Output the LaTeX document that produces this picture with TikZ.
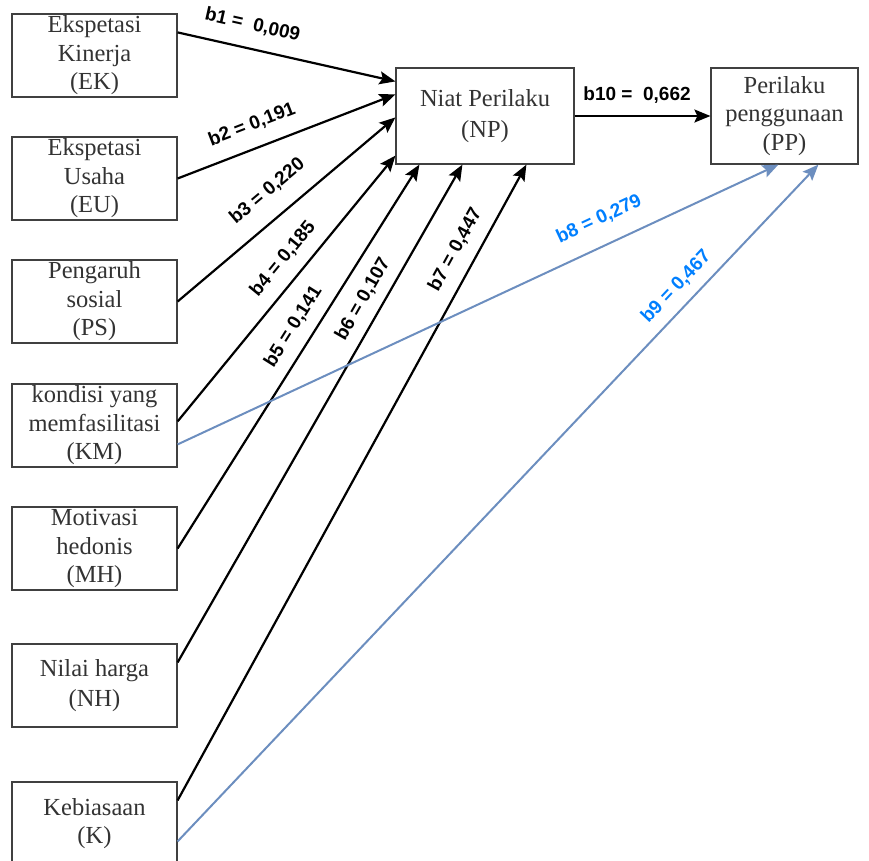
\documentclass[tikz,border=0pt]{standalone}
\usepackage{fontspec}
\setmainfont{Liberation Serif}
\newfontfamily\lblfont{Liberation Sans}
\usetikzlibrary{arrows.meta,calc}
\definecolor{myblue}{RGB}{108,142,191}
\definecolor{lblblue}{RGB}{0,127,255}
\tikzset{
    block/.style = {draw=black!75, line width=1.2pt, text=black!80,
            minimum width=165pt, minimum height=83pt, inner sep=0pt,
            align=center, font=\fontsize{24.5}{28.5}\selectfont},
    line/.style  = {-{Stealth[length=16pt,width=13pt,inset=3pt]}, line width=2.2pt, draw=black},
    bline/.style = {line, line width=2pt, draw=myblue},
    coef/.style  = {sloped, inner sep=0pt, text=black,
            font=\lblfont\bfseries\fontsize{19}{22}\selectfont},
    bcoef/.style = {coef, text=lblblue},
}

\begin{document}
\begin{tikzpicture}[x=1pt,y=-1pt]
    \useasboundingbox (0,0) rectangle (869,860);
    % Nodes
    \node[block] (EK) at (94.5,55.5) {Ekspetasi\\Kinerja\\(EK)};
    \node[block] (EU) at (94.5,178.5) {Ekspetasi\\Usaha\\(EU)};
    \node[block] (PS) at (94.5,301.5) {Pengaruh\\sosial\\(PS)};
    \node[block] (KM) at (94.5,425.5) {kondisi yang\\memfasilitasi\\(KM)};
    \node[block] (MH) at (94.5,548.5) {Motivasi\\hedonis\\(MH)};
    \node[block] (NH) at (94.5,685.5) {Nilai harga\\[2pt](NH)};
    \node[block] (K) at (94.5,823.5) {Kebiasaan\\(K)};
    \node[block, minimum width=178pt, minimum height=96pt] (NP) at (485,116) {Niat Perilaku\\[3pt](NP)};
    \node[block, minimum width=147pt, minimum height=96pt] (PP) at (784.5,116) {Perilaku\\penggunaan\\(PP)};

    % Arrows into NP
    \draw[line] ($(EK.north east)+(0,19)$) -- node[coef, above=14pt, pos=0.32]{b1 =\ \ 0,009} ($(NP.north west)+(0,14)$);
    \draw[line] (EU.east) -- node[coef, above=14pt, pos=0.38]{b2 = 0,191} ($(NP.north west)+(0,27)$);
    \draw[line] (PS.east) -- node[coef, above=17pt, pos=0.49]{b3 = 0,220} ($(NP.north west)+(0,50)$);
    \draw[line] ($(KM.north east)+(0,38)$) -- node[coef, above=12pt, pos=0.56]{b4 = 0,185} ($(NP.south west)+(0,-9)$);
    \draw[line] (MH.east) -- node[coef, above=11pt, pos=0.55]{b5 = 0,141} ($(NP.south west)+(24,0)$);
    \draw[line] ($(NH.north east)+(0,19)$) -- node[coef, above=10pt, pos=0.71]{b6 = 0,107} ($(NP.south west)+(67,0)$);
    \draw[line] ($(K.north east)+(0,19)$) -- node[coef, above=12pt, pos=0.85]{b7 = 0,447} ($(NP.south west)+(131,0)$);
    \draw[line] (NP.east) -- node[coef, above=11pt, pos=0.46]{b10 =\ \ 0,662} (PP.west);
    % Arrows into PP
    \draw[bline] ($(KM.north east)+(0,61)$) -- node[bcoef, above=17pt, pos=0.72]{b8 = 0,279} ($(PP.south west)+(68,0)$);
    \draw[bline] ($(K.north east)+(0,60)$) -- node[bcoef, above=10pt, pos=0.80]{b9 = 0,467} ($(PP.south west)+(108,0)$);
\end{tikzpicture}
\end{document}
